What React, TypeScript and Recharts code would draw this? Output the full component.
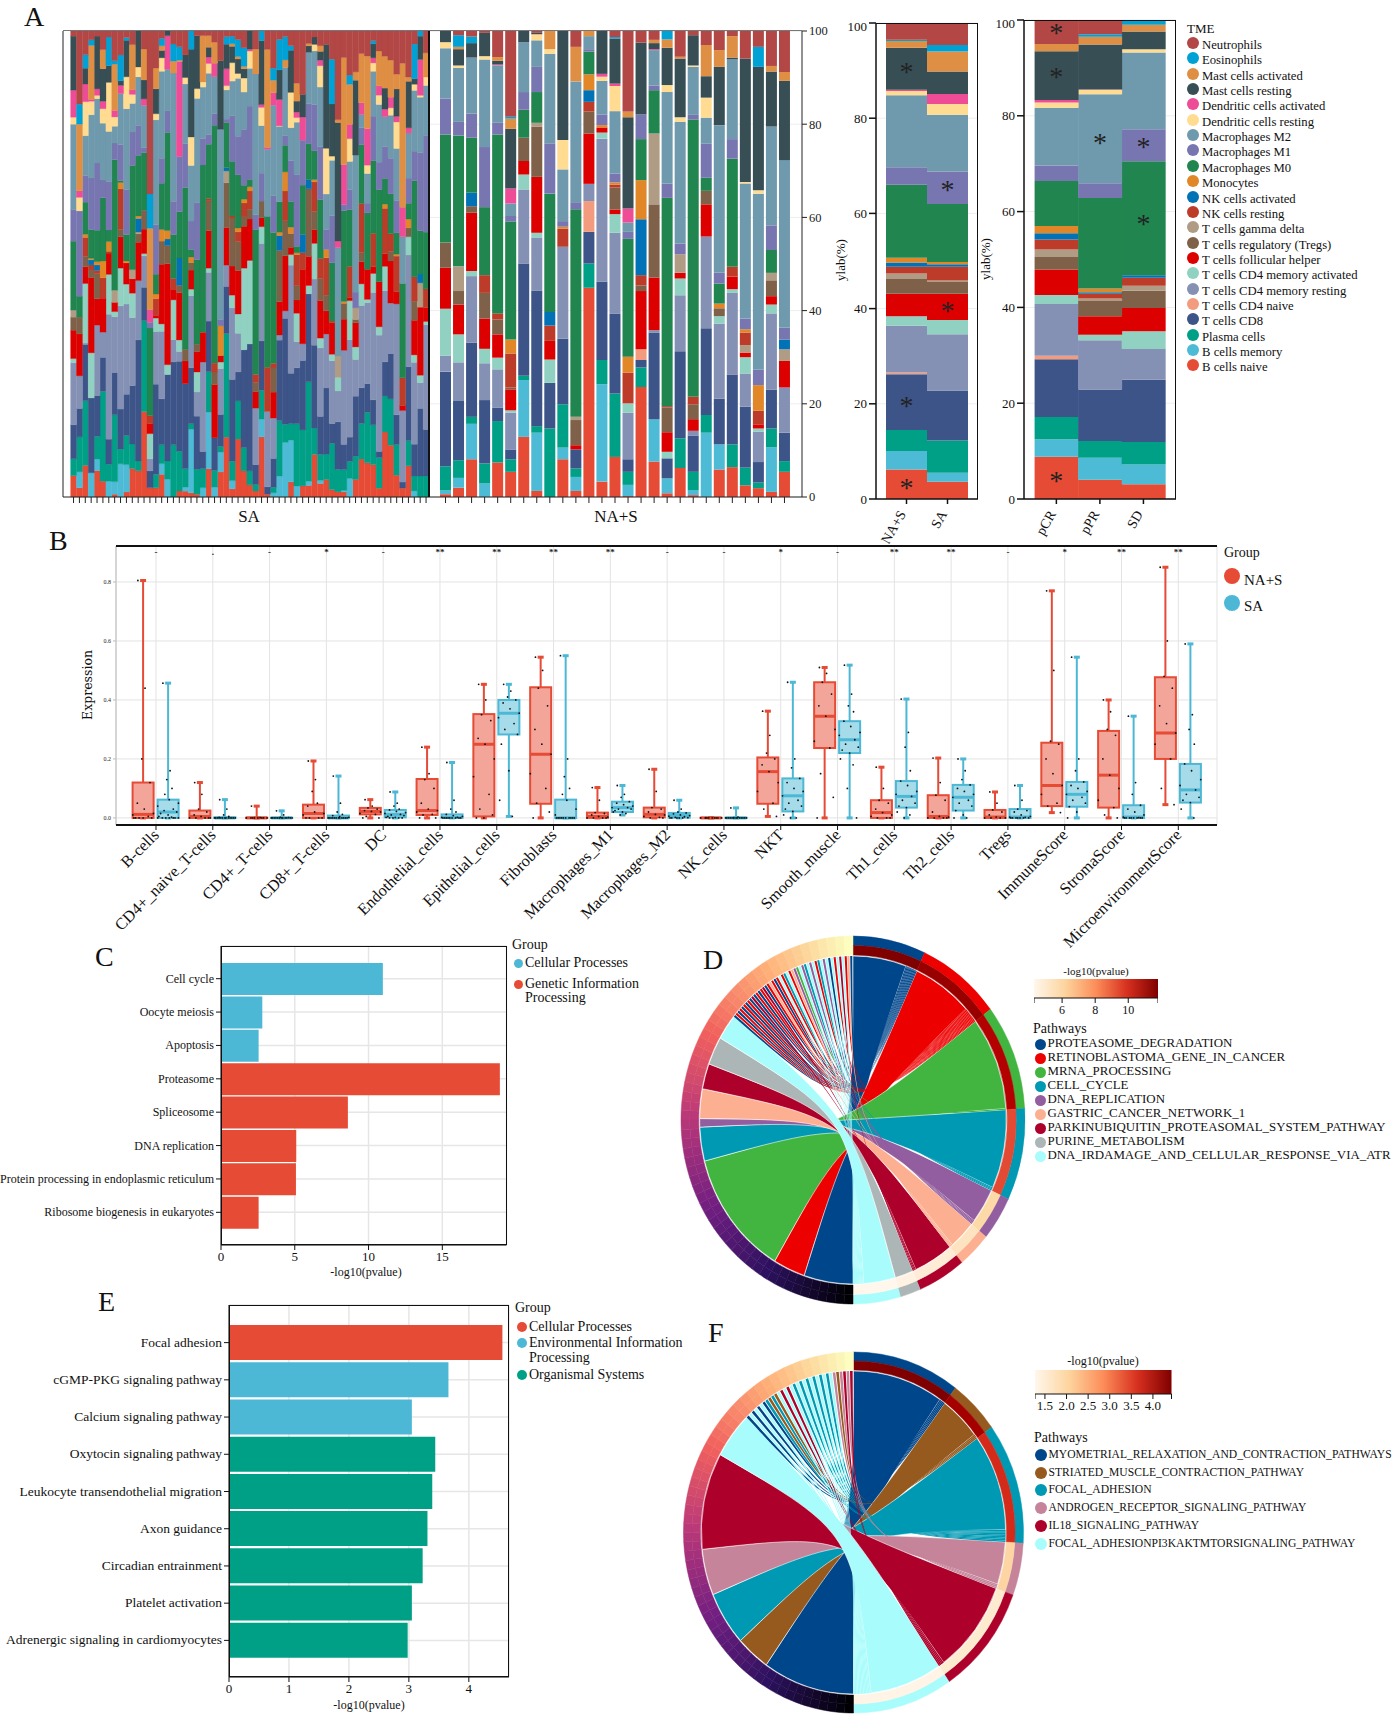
import React from 'react';
import {
  BarChart, Bar, ComposedChart, LineChart, PieChart, Pie, Cell, XAxis, YAxis, CartesianGrid,
  ReferenceDot, Customized
} from 'recharts';

const SERIF = '"Liberation Serif", serif';

// ---- panel A ----
const CELL_TYPES = ['B cells naive', 'B cells memory', 'Plasma cells', 'T cells CD8', 'T cells CD4 naive', 'T cells CD4 memory resting', 'T cells CD4 memory activated', 'T cells follicular helper', 'T cells regulatory (Tregs)', 'T cells gamma delta', 'NK cells resting', 'NK cells activated', 'Monocytes', 'Macrophages M0', 'Macrophages M1', 'Macrophages M2', 'Dendritic cells resting', 'Dendritic cells activated', 'Mast cells resting', 'Mast cells activated', 'Eosinophils', 'Neutrophils'];
const CELL_COLORS = ['#e64b35', '#4dbbd5', '#00a087', '#3c5488', '#f39b7f', '#8491b4', '#91d1c2', '#dc0000', '#7e6148', '#b09c85', '#bc3c29', '#0072b5', '#e18727', '#20854e', '#7876b1', '#6f99ad', '#ffdc91', '#ee4c97', '#374e55', '#df8f44', '#00a1d5', '#b24745'];

const saSamples = [
  [4.6,0,3.6,7.3,0,13.3,.9,6.1,2.8,1.5,0,0,0,14.8,6.8,18.3,1.5,5.8,11.6,0,0,1.1],
  [2,3.4,7.5,6.1,0,7,0,9,3.6,0,0,0,0,4.5,18.3,0,2.9,1.4,0,14.3,4.3,15.7],
  [6.8,0,13.9,12.1,0,.3,12.8,3.6,2.2,0,4.1,0,.7,6.9,5.7,8.6,7.3,3.8,3.4,0,2.9,5.1],
  [0,5.2,0,16.1,0,0,9.7,16.2,1.6,0,1.1,1.1,.3,6.2,11.1,13.6,2.9,.4,0,11.6,1.2,1.9],
  [5.7,2.5,4.9,8.8,0,15.2,0,5.7,5.4,0,.7,1.2,.7,6.8,14.5,13.9,.7,1.4,11.4,0,0,1.1],
  [3.4,0,19.3,7.3,0,5.4,0,7.3,0,0,4.4,0,3.6,13.6,3.8,12.2,3.1,1.6,7,4.1,0,4],
  [0,3.4,3.7,5.4,0,27,8.6,4.6,0,0,.4,0,2.1,2.5,10.4,10.9,10.6,0,3.6,0,6.2,1.3],
  [.6,2.7,14.4,9.1,0,12,1.1,2,0,2.6,0,0,0,28.1,3.6,3.6,2,1.4,0,10,.7,6.4],
  [0,7.2,3.2,8.7,0,22.4,8.2,6.8,1.6,0,8.8,0,1.4,.4,7.8,11.1,0,1.8,1,0,5.6,5.2],
  [1.1,5.9,6.3,8.9,0,19.5,4.3,4.6,0,0,0,0,.4,5.7,9.7,17.5,6.9,0,7.9,0,.6,1.4],
  [6.3,0,5.4,12.9,0,15,5.4,3.2,0,2,0,0,0,23,7.4,6.3,2,1,0,10,0,3],
  [5.6,0,2.1,25.9,0,12.7,0,8.2,1.8,.4,0,2.9,.5,13,6.4,10.4,2.1,0,7.7,0,0,0],
  [18.5,0,19.7,7.2,0,6.8,.5,5.3,4.1,0,0,0,0,12.5,1,9.2,0,1.4,4.1,6.7,0,3.9],
  [2,0,0,3.6,0,2.6,5.4,2.2,0,0,1.7,0,0,18.8,1.2,0,0,2.7,0,17.5,7.4,35],
  [2,0,2.9,19.5,0,11.4,2.9,.6,0,0,3.6,0,1,4.3,10.7,22.7,1.3,0,5.4,4.5,0,8],
  [4.9,2.3,4.1,9.9,0,14.6,1.6,12.9,5,0,0,0,2.5,10,5.4,18.8,2.9,0,1.6,1,1.6,1.6],
  [0,3.8,3.9,18.5,0,0,2.1,21.6,3.9,0,0,1.4,1.8,21,4.6,8.9,0,7.2,1,0,0,0],
  [0,0,11.3,17.9,0,4.8,8.6,2.3,0,0,2.3,0,0,9.5,7.2,27.7,0,0,0,2.6,3.7,2.8],
  [1.3,0,8.6,19.4,0,2.1,2.5,10.2,1.6,0,0,5.9,0,10,11.9,0,0,20.5,0,.3,2.9,3.4],
  [1.3,.9,4.1,18.8,0,0,0,5,2.6,0,0,0,0,35.8,9.7,13.2,1.4,0,5,0,0,5.3],
  [.9,13.6,1.2,12,0,15.4,1.4,4.1,1.6,0,0,0,1.2,1.6,6.1,11.9,6.1,0,18.8,0,3.9,0],
  [.6,0,5.4,11.4,0,5.2,4.3,4.4,1.6,0,0,0,0,18.2,12.2,22.5,2.1,0,11.4,0,0,1],
  [0,2,4.1,3.7,0,19.3,0,6.3,0,0,.2,0,0,36,5.7,11.1,1.1,0,0,10,0,1],
  [6.1,12.2,8.7,10.9,0,10.5,.9,8.1,6.4,0,.5,0,0,11.7,2.1,13.2,2.1,1.4,2.1,2.5,0,1],
  [0,2.1,3.6,7,0,0,0,11.4,2.7,0,1.9,0,0,51,2.5,7.9,0,2.9,0,4.5,0,2.4],
  [5.4,4.3,1.2,6.9,0,9.9,1.4,1.4,0,0,0,0,6.4,0,1.4,41,0,0,14.8,0,0,6.4],
  [12.7,0,22,10,0,4.5,0,8,9.5,2.5,0,.7,0,9.6,.7,6.2,.9,3.6,5.2,0,1.6,1.2],
  [1.6,1.6,3.8,16,0,14,2.5,5.7,9.4,0,.4,0,0,10.7,8.9,6.8,3.6,0,3.2,.5,1.5,1],
  [12,0,7.9,6,0,8,4,9,6,0,2,0,.8,11,8,12,1,0,3,.5,3.5,1.8],
  [5.6,0,5,21,0,0,17.5,9,2,0,3,0,.8,3,12,8,3,0,2,.5,4,3.6],
  [2.6,0,3,27.2,0,0,17.9,8.9,2.1,0,3.9,0,.9,1.6,15.7,8.1,3.7,.4,3.9,0,0,0],
  [1.3,0,1.4,4.3,0,12.2,0,3.6,2,0,1.7,0,0,31.3,3.2,30.4,0,0,0,5.4,0,3.9],
  [12.9,3.8,6.2,10.6,0,20.9,3.6,1.9,3.6,0,0,0,0,0,6,10.2,3.9,.6,13.7,0,2.1,0],
  [.6,0,0,1.6,0,16.3,0,0,0,0,9.6,0,0,32.7,0,14.5,0,.4,0,21.2,0,4],
  [0,.9,1.2,6.2,0,8.7,0,5.6,5.2,0,1,0,0,28.2,7.9,19.5,0,2.7,0,2.7,2.6,8],
  [0,4.5,12,17.4,0,1.1,0,7.2,11.1,0,0,3.2,.7,6.6,0,16.3,.1,5.7,6.4,0,6.6,1.8],
  [0,11.7,3.9,22.7,0,1.6,0,11.8,7.5,0,6.4,0,4.1,5.7,2.1,14.6,0,0,0,1.6,5,1.2],
  [3.3,9.1,3.6,11,0,23.6,2.3,1.6,3,0,0,0,1.4,5.6,8.9,7.2,7.7,0,9.2,0,1,3.2],
  [0,2.4,13.6,12.2,0,5.7,6.2,2.9,3.1,0,6.8,0,.4,1.4,15.7,11.4,1,1.2,2.4,3.9,0,11.4],
  [2.4,0,12.1,15,0,3.6,0,16.1,0,0,3.6,3.9,0,10.7,9.7,0,0,5,4.9,0,0,13.7],
  [2.5,.9,21.5,19,0,0,1.8,6.3,14.6,0,0,2,0,7.7,8.7,11.1,0,0,1.4,.5,0,2.7],
  [9.2,0,5.7,17.9,0,14.3,7.7,3,3.9,0,6.4,0,.5,6.2,10,11.6,1.4,0,1.6,0,0,1.3],
  [2.9,.7,5.6,8.2,0,14.8,2.1,8.1,4.8,0,4.3,0,0,12.7,11.4,12.9,4.6,1.2,1.9,1.2,0,3.2],
  [3.8,0,5.5,14.3,0,11.7,0,5,3.4,0,8.1,0,1.8,0,4.3,7.7,9.9,0,22.5,0,0,2.9],
  [1.6,0,10,4.3,0,13.6,1.4,6.8,0,0,.4,0,0,12.6,10.2,12,.9,0,11.3,0,9.7,6.1],
  [1.1,0,4.8,10.2,0,6.6,2.9,0,0,4.6,0,0,0,0,0,23.2,0,1.4,25.4,.6,0,19],
  [1.1,.3,4.5,5.4,0,20.2,0,6.7,3.4,0,0,0,.4,19.5,1.3,0,0,8.6,0,23,0,5.7],
  [0,4,3.7,5.2,0,21,8.4,.7,0,0,6.7,0,0,12.2,4.3,6.1,4.9,3.1,0,8.6,2,9.5],
  [3.8,0,5,12.9,0,7.9,2.7,5.2,.7,2.5,0,0,0,0,3.4,29.5,0,0,16.1,1.8,0,8.8],
  [8.4,0,7.9,7.9,0,18.2,4.8,4.9,2,0,10.9,0,0,13,3.8,2.9,0,2.6,0,10.9,0,5],
  [7.4,0,10.9,6.2,0,17.5,.7,6.5,0,0,0,0,0,12.2,2.1,6.4,1.8,7.9,0,15.7,0,5.4],
  [7,0,8.6,5.4,0,23.2,4.1,1.5,0,0,7.2,0,0,15.7,9.6,9.7,1.8,1.1,3,0,.7,2.1],
  [1.9,0,6.6,1.3,0,25,1.8,9.7,0,0,0,0,0,19.8,5.9,12.4,2,2,0,7.5,0,4.3],
  [13.9,0,7.7,7.3,0,15.2,5.2,2.7,0,0,9.7,0,.9,5.5,6.8,6.4,0,1.6,4.5,6.8,0,5.4],
  [11.2,0,10,9.8,0,10.9,0,9.1,2.1,0,3.8,0,0,8.6,7.7,9.3,1.6,2.3,0,8,0,6.3],
  [4.7,0,6.6,6.4,0,23.9,0,2.6,0,0,7.7,0,.4,4.6,7,11.2,5.7,1.2,5.9,3.2,0,9.3],
  [1.9,0,0,1.3,0,15.3,0,1.1,0,0,5.9,0,0,20.2,0,10,0,6.3,0,30.8,0,6.9],
  [6.7,0,5.4,15.9,0,24,3.9,0,1.9,0,0,0,1.9,3.4,5.4,9.7,0,1.1,10,.9,0,9.9],
  [0,1.3,3.2,6.8,0,17.5,1.6,7.4,4.1,0,5.2,0,0,20.6,6.3,13,1.3,0,1.2,0,7.4,2.8],
  [0,0,4.5,14.5,0,5.5,1.6,14.6,0,5.2,0,1.9,0,9.3,16.7,11.9,.4,7.7,5,0,1.1,0],
  [0,0,4.5,10,0,22.5,.7,3,0,0,4,0,0,12.2,20.8,10.7,1.8,0,0,5.2,0,4.7],
];

const naSamples = [
  [.6,.8,5.2,20.3,0,3.4,10.1,8.8,5.4,0,0,0,0,23.2,7.7,10.8,1.3,0,2.4,0,0,0],
  [2,2.1,3.8,12.7,0,8.3,6,6.4,2.9,5.3,0,0,0,28.1,2.9,11.6,.5,0,3.5,.5,2.5,.9],
  [8.1,7.6,1.5,15.9,0,14.3,1.1,12.5,1.4,0,0,2.9,0,11.8,5.2,12,0,0,3.1,0,1.4,1.2],
  [0,2.9,4.3,13.6,0,7.9,3.1,6.5,5.5,0,3.8,0,0,14.6,12.9,18.8,.7,0,5,0,0,.4],
  [7.4,0,8.9,2.9,0,8.2,2.5,5,3.2,0,1.3,0,0,38.4,2.5,12.3,0,.2,.8,.8,0,5.6],
  [5.4,0,2.7,2.1,0,7.9,.5,4.5,.4,0,7.3,0,3,25.3,1.2,2.7,0,3.2,12.8,2.2,.4,18.4],
  [12.9,12.2,.9,24.1,0,15.9,3.2,2.9,5,0,0,0,0,6,3.8,10.7,0,0,2.4,0,0,0],
  [1.3,12.5,1.4,29.1,0,11.4,1,12,10.8,.8,0,0,0,6.6,5.4,5.7,1.3,0,.3,0,0,.4],
  [0,0,14.7,9.8,0,0,5,4,0,0,3.3,2.9,0,25.4,10.8,19.2,1,0,0,3.9,0,0],
  [8.1,2.5,9.3,14.1,0,19.7,0,0,0,0,3.9,0,.4,0,1.2,11.1,6.3,0,23.4,0,0,0],
  [1.3,3,1.8,4.1,0,0,0,.9,5.4,.7,0,0,0,44.5,1.5,25.9,0,0,0,7.4,0,3.4],
  [44.9,0,5.2,6.8,6.6,3.7,0,10.8,4.7,0,2.1,2.5,3.4,4.9,.5,2.8,0,0,0,1.1,0,0],
  [3.3,20.9,5.2,16.8,0,30.7,1.3,1.1,0,0,0,0,.5,0,2.3,7.2,.9,.6,9.2,0,0,0],
  [8.6,0,13.6,17.1,0,17.4,4,1,4.7,0,.6,0,.5,0,1.9,13.4,5.4,.5,9.7,0,.3,1.3],
  [.2,2.4,2.8,2.7,0,10,2,0,0,0,6.6,0,3.4,25.3,1.5,2,0,3,19.6,1.2,0,17.3],
  [23.6,0,4.2,1.6,2.3,0,0,12.5,1.2,0,2.2,12,8.4,8.8,5.3,0,0,0,15.4,0,0,2.5],
  [7.6,9.1,0,18.6,0,.5,0,11.3,15.7,15.2,0,0,0,9.3,1,7.6,0,.2,1.3,.7,0,1.9],
  [.8,3.2,0,4.3,0,0,1.4,4.2,5.3,0,.3,0,0,44.7,3,19.7,1.5,0,8,1.8,1.8,0],
  [6.2,0,6.4,18.7,0,12,3.6,1.2,0,4,0,0,0,0,2.3,26.1,1,0,12.6,.4,0,5.5],
  [.4,1.1,3.9,7.8,0,1,0,2.5,3.2,0,1.6,0,0,59.5,1,10.3,.3,0,6.5,0,0,.9],
  [0,13.8,3.8,18.6,0,19.7,0,6.9,2.9,0,0,0,0,2.8,7.3,5.6,4.3,0,4.6,6.7,0,3],
  [5.9,5.4,0,9.8,0,16.1,1.6,0,1.7,0,0,0,1,4.3,2.3,31.7,0,0,12.5,3.6,0,4.1],
  [6.4,0,4.9,15,0,17.5,.8,2.7,0,0,2.1,0,0,23.2,4.2,17.1,0,0,.4,4.6,0,1.1],
  [2.5,0,3.8,13.1,0,7.1,3.5,1,0,1.6,2.7,0,.7,0,2.3,29,.3,0,26.5,0,0,5.9],
  [1.9,0,1.2,4.4,0,6.5,.7,.9,0,0,2.9,0,5.5,0,3.3,37.8,.7,0,26.5,0,4.3,3.4],
  [1.1,9.6,4,8.3,0,16.4,1.9,1.8,3.4,1.6,0,0,0,4.9,5.3,21.2,0,0,11.8,1.2,0,7.5],
  [5.4,0,2.3,6.1,0,9.7,0,5.7,0,2.5,0,2.1,0,0,2.5,36,0,0,17,1.9,0,8.8],
];

const groupMeanNA = [6.2,3.9,4.4,11.7,.4,9.8,2,4.7,3.1,1.2,1.4,.9,1,15.3,3.7,15.1,.9,.3,8.8,1.4,.3,3.5];
const groupMeanSA = [3.6,1.9,6.8,10.5,0,11.8,3,5.5,2.5,.3,2.9,.5,.5,12.2,6.8,11.9,2.3,2.1,4.7,4.2,1.4,4.6];
const respPCR = [8.8,3.7,4.6,12.1,.7,10.8,1.9,5.3,2.6,1.6,2.1,1.3,1.5,9.4,3.2,12.1,1.1,.5,10.2,1.5,0,5];
const respPPR = [4,4.6,3.5,10.8,0,10.3,1.1,3.9,3.2,.5,1,.3,.8,18.9,3.1,18.6,.9,.1,9.4,1.6,.5,3];
const respSD = [3.1,4.1,4.7,13,0,6.4,3.7,4.9,3.6,1,1.7,.5,0,23.8,6.7,16,.7,0,3.7,1.4,.9,.1];

const PCT_TICKS = [0, 20, 40, 60, 80, 100];
const marksGroup = [['NA+S', 2.7], ['NA+S', 19.9], ['NA+S', 90.1], ['SA', 65.4], ['SA', 39.9]];
const marksResp = [['pCR', 97.6], ['pCR', 88.6], ['pCR', 4.2], ['pPR', 74.8], ['SD', 73.9], ['SD', 57.9]];

const toTable = (labels: string[], rows: number[][]) => rows.map((row, i) => {
  const sum = row.reduce((a, b) => a + b, 0);
  const out: any = { name: labels[i] };
  CELL_TYPES.forEach((c, k) => { out[c] = row[k] / sum * 100; });
  return out;
});

const saTable = toTable(saSamples.map((_, i) => `SA${i + 1}`), saSamples);
const naTable = toTable(naSamples.map((_, i) => `NA${i + 1}`), naSamples);
const groupTable = toTable(['NA+S', 'SA'], [groupMeanNA, groupMeanSA]);
const respTable = toTable(['pCR', 'pPR', 'SD'], [respPCR, respPPR, respSD]);

// ---- panel B ----
const immuneCats = ['B-cells', 'CD4+_naive_T-cells', 'CD4+_T-cells', 'CD8+_T-cells', 'DC', 'Endothelial_cells', 'Epithelial_cells', 'Fibroblasts', 'Macrophages_M1', 'Macrophages_M2', 'NK_cells', 'NKT', 'Smooth_muscle', 'Th1_cells', 'Th2_cells', 'Tregs', 'ImmuneScore', 'StromaScore', 'MicroenvironmentScore'];
const immuneSig = ['-', '.', '-', '*', '-', '**', '**', '**', '**', '-', '-', '*', '-', '**', '**', '-', '*', '**', '**'];
// min, q1, median, q3, max
const naBoxes = [[0,0,.012,.12,.805],[0,0,.005,.025,.12],[0,0,0,.001,.04],[0,0,.015,.045,.193],[0,.012,.022,.034,.062],[0,.01,.025,.132,.24],[0,.005,.25,.352,.453],[0,.048,.216,.443,.545],[0,0,.005,.018,.103],[0,.002,.012,.035,.165],[0,0,0,.0005,.001],[.005,.048,.157,.205,.362],[0,.237,.345,.46,.51],[0,0,.018,.06,.172],[0,0,.005,.077,.203],[0,0,.003,.027,.088],[.018,.04,.11,.255,.77],[0,.035,.145,.295,.4],[.045,.2,.288,.477,.85]];
const saBoxes = [[0,0,.02,.062,.457],[0,0,0,.002,.062],[0,0,0,.001,.024],[0,0,0,.008,.142],[0,.002,.012,.027,.088],[0,0,.002,.012,.188],[.005,.283,.355,.4,.453],[0,0,0,.062,.55],[.01,.02,.035,.055,.11],[0,.001,.008,.017,.06],[0,0,0,.001,.034],[0,.022,.075,.134,.46],[0,.22,.265,.328,.518],[0,.035,.073,.125,.403],[0,.025,.07,.112,.2],[0,0,.003,.03,.11],[0,.038,.08,.122,.545],[0,0,.003,.043,.345],[0,.052,.095,.183,.59]];
const naPts = [
  [.805,.44,.2,.12,.05,.03,.015,.01,.005,0,0,0,0,0],[.12,.08,.03,.02,.01,.005,0,0,0,0,0],[.04,.001,0,0,0,0,0,0,0,0],[.193,.13,.09,.05,.04,.02,.015,.01,0,0,0,0],
  [.062,.04,.034,.03,.025,.022,.02,.015,.012,.005,0,0],[.24,.15,.13,.1,.05,.03,.025,.02,.012,.01,0,0],[.453,.4,.35,.33,.27,.25,.2,.14,.08,.03,.01,0,0],[.545,.5,.44,.38,.3,.25,.216,.15,.1,.05,.02,0],
  [.103,.06,.018,.015,.01,.005,.003,0,0,0,0],[.165,.09,.035,.03,.02,.012,.01,.005,.002,0,0],[.001,0,0,0,0,0,0,0,0,0],[.362,.28,.22,.2,.18,.157,.12,.09,.05,.03,.005],
  [.51,.49,.46,.42,.38,.345,.3,.26,.237,.15,.07,0],[.172,.1,.06,.05,.03,.018,.01,.005,0,0,0],[.203,.12,.077,.06,.02,.005,.003,0,0,0,0],[.088,.05,.027,.02,.01,.003,0,0,0,0],
  [.77,.5,.26,.25,.2,.15,.11,.08,.05,.04,.018],[.4,.36,.3,.28,.2,.145,.1,.06,.035,.01,0],[.85,.6,.48,.44,.38,.32,.288,.25,.2,.1,.045],
];
const saPts = [
  [.457,.16,.13,.1,.08,.062,.05,.04,.03,.025,.02,.015,.01,.005,.003,0,0,0,0,0,0,0],[.062,.03,.01,.005,.002,0,0,0,0,0,0,0,0,0,0,0,0,0],[.024,.01,.002,.001,0,0,0,0,0,0,0,0,0,0,0,0],[.142,.05,.02,.012,.008,.004,.002,0,0,0,0,0,0,0,0,0,0,0,0],
  [.088,.05,.04,.03,.027,.022,.018,.015,.012,.01,.008,.005,.002,.002,0,0,0,0],[.188,.06,.03,.02,.012,.008,.005,.002,.002,0,0,0,0,0,0,0,0,0],[.453,.43,.41,.4,.39,.37,.355,.34,.32,.3,.283,.25,.16,.06,.005],[.55,.2,.14,.1,.08,.06,.03,.01,0,0,0,0,0,0,0,0,0,0],
  [.11,.08,.07,.055,.05,.045,.04,.035,.035,.03,.03,.025,.02,.02,.015,.01],[.06,.03,.02,.017,.014,.01,.008,.006,.004,.002,.001,0,0,0,0,0],[.034,.003,.001,0,0,0,0,0,0,0,0,0,0,0,0,0],[.46,.2,.17,.134,.12,.1,.09,.075,.06,.05,.04,.03,.022,.01,0,0],
  [.518,.42,.38,.36,.328,.31,.29,.28,.265,.25,.24,.23,.22,.2,.18,.1,0],[.403,.29,.24,.16,.125,.11,.09,.08,.073,.06,.05,.04,.035,.02,.01,0],[.2,.16,.13,.112,.1,.09,.08,.07,.06,.05,.04,.025,.01,0,0],[.11,.06,.03,.025,.02,.01,.005,.003,.002,0,0,0,0,0,0,0],
  [.545,.2,.16,.122,.11,.1,.09,.08,.07,.06,.05,.038,.02,0],[.345,.12,.08,.043,.03,.02,.01,.003,.001,0,0,0,0,0,0,0,0],[.59,.35,.3,.25,.183,.16,.13,.11,.095,.08,.07,.06,.052,.03,0],
];
const immuneTable = immuneCats.map((c, i) => ({ cat: c, sig: immuneSig[i], na: naBoxes[i], sa: saBoxes[i], naPts: naPts[i], saPts: saPts[i] }));
const JITTER = [-.8, .3, -.2, .6, -.5, .1, .9, -.9, .45, -.35, .75, -.65, 0];

// ---- panels C and E ----
const keggC = ['Cell cycle', 'Oocyte meiosis', 'Apoptosis', 'Proteasome', 'Spliceosome', 'DNA replication', 'Protein processing in endoplasmic reticulum', 'Ribosome biogenesis in eukaryotes'];
const keggCValues = [10.97, 2.8, 2.55, 18.9, 8.6, 5.1, 5.08, 2.55];
const keggCColors = ['#4db8d5', '#4db8d5', '#4db8d5', '#e64b35', '#e64b35', '#e64b35', '#e64b35', '#e64b35'];
const keggE = ['Focal adhesion', 'cGMP-PKG signaling pathway', 'Calcium signaling pathway', 'Oxytocin signaling pathway', 'Leukocyte transendothelial migration', 'Axon guidance', 'Circadian entrainment', 'Platelet activation', 'Adrenergic signaling in cardiomyocytes'];
const keggEValues = [4.56, 3.66, 3.05, 3.44, 3.39, 3.31, 3.23, 3.05, 2.98];
const keggEColors = ['#e64b35', '#4db8d5', '#4db8d5', '#00a087', '#00a087', '#00a087', '#00a087', '#00a087', '#00a087'];

// ---- panels D and F ----
const pathwaysD = ['PROTEASOME_DEGRADATION', 'RETINOBLASTOMA_GENE_IN_CANCER', 'MRNA_PROCESSING', 'CELL_CYCLE', 'DNA_REPLICATION', 'GASTRIC_CANCER_NETWORK_1', 'PARKINUBIQUITIN_PROTEASOMAL_SYSTEM_PATHWAY', 'PURINE_METABOLISM', 'DNA_IRDAMAGE_AND_CELLULAR_RESPONSE_VIA_ATR'];
const colorsD = ['#00468b', '#ed0000', '#42b540', '#0099b4', '#925e9f', '#fdaf91', '#ad002a', '#adb6b6', '#a8fcfc'];
const termSpanD = [24.6, 28.4, 33.4, 29.1, 13.9, 11.4, 16.2, 7, 16];
const pvalColorD = ['#7f0000', '#980000', '#b30000', '#e34a33', '#fdd9a8', '#fee3c0', '#feecd6', '#fff2e2', '#fff7ec'];
const geneSpanD = [18.6, 12.1, 44.8, 12, 3, 10.5, 9, 10, 9];
const strandsD = [0,1,0,1,0,1,0,1,0,6,0,1,0,1,6,0,1,5,1,0,1,8,1,3,8,1,5,4,2,8,4,3,8,4,8,1,3,8,4,8,0,8,1,8,6,8,1,5,0];

const pathwaysF = ['MYOMETRIAL_RELAXATION_AND_CONTRACTION_PATHWAYS', 'STRIATED_MUSCLE_CONTRACTION_PATHWAY', 'FOCAL_ADHESION', 'ANDROGEN_RECEPTOR_SIGNALING_PATHWAY', 'IL18_SIGNALING_PATHWAY', 'FOCAL_ADHESIONPI3KAKTMTORSIGNALING_PATHWAY'];
const colorsF = ['#00468b', '#965a1f', '#0099b4', '#c5849a', '#ad002a', '#a8fcfc'];
const termSpanF = [36.8, 17.5, 39.1, 16.9, 35.5, 34.2];
const pvalColorF = ['#7f0000', '#a50000', '#d32a1a', '#fdd5a5', '#fdebd0', '#fff4e6'];
const geneSpanF = [35, 13, 19.4, 16.6, 34.8, 16.6];
const strandsF = [0,5,0,5,0,5,0,2,1,2,1,5,4,5,4,5,2,5,2,5,2,5,2,5,2,5,2,5,3,1,3,4,3,4];

const MAGMA = ['#000004', '#2c115f', '#721f81', '#b73779', '#f1605d', '#feb078', '#fcfdbf'];
const ORRD = ['#fff7ec', '#fdd49e', '#fc8d59', '#d7301f', '#7f0000'];

const hex = (s: string) => [1, 3, 5].map(i => parseInt(s.slice(i, i + 2), 16));
const ramp = (stops: string[], n: number) => Array.from({ length: n }, (_, i) => {
  const t = i / (n - 1) * (stops.length - 1);
  const k = Math.min(Math.floor(t), stops.length - 2);
  const a = hex(stops[k]), b = hex(stops[k + 1]);
  return `rgb(${a.map((v, j) => Math.round(v + (b[j] - v) * (t - k))).join(',')})`;
});

// ---- small layout helpers ----
const Txt = ({ x, y, size = 12, center, rotate, family, children }: any) => (
  <div style={{
    position: 'absolute', left: x, top: y, fontSize: size, whiteSpace: 'nowrap', lineHeight: 1.2, color: '#111',
    fontFamily: family || SERIF,
    transform: `translate(${center ? '-50%' : '0'},-50%)${rotate ? ` rotate(${rotate}deg)` : ''}`,
  }}>{children}</div>
);

const Dot = ({ x, y, r, color }: any) => (
  <div style={{ position: 'absolute', left: x - r, top: y - r, width: 2 * r, height: 2 * r, borderRadius: '50%', background: color }} />
);

const Frame = ({ l, t, r, b, color = '#111', w = 1.5, sides = 'trbl' }: any) => (
  <div style={{
    position: 'absolute', left: l, top: t, width: r - l, height: b - t, boxSizing: 'border-box',
    borderTop: sides.includes('t') ? `${w}px solid ${color}` : 'none',
    borderRight: sides.includes('r') ? `${w}px solid ${color}` : 'none',
    borderBottom: sides.includes('b') ? `${w}px solid ${color}` : 'none',
    borderLeft: sides.includes('l') ? `${w}px solid ${color}` : 'none',
  }} />
);

const Place = ({ x, y, children, style }: any) => <div style={{ position: 'absolute', left: x, top: y, ...style }}>{children}</div>;

const stackBars = (size?: number) => CELL_TYPES.map((c, i) => (
  <Bar key={c} dataKey={c} stackId="a" fill={CELL_COLORS[i]} barSize={size} isAnimationActive={false} />
));

const Star = ({ cx, cy }: any) => (
  <text x={cx} y={cy + 11} textAnchor="middle" fontSize={28} fill="#222">*</text>
);

const RotTick = ({ x, y, payload }: any) => (
  <text x={x} y={y} dy={8} textAnchor="end" fontSize={14} fill="#111" transform={`rotate(-60 ${x} ${y + 8})`}>{payload.value}</text>
);

const StackPanel = ({ data, marks, x, y, w, h, left, pad }: any) => (
  <Place x={x} y={y}>
    <BarChart width={w} height={h} data={data} barCategoryGap={0} margin={{ top: 5, right: 2, bottom: 0, left: 0 }}>
      <CartesianGrid vertical={false} stroke="#eeeeee" />
      <XAxis dataKey="name" interval={0} tick={<RotTick />} tickSize={5} height={45} padding={pad} stroke="#111" strokeWidth={1.5} />
      <YAxis domain={[0, 100]} ticks={PCT_TICKS} tickSize={7} width={left} stroke="#111" strokeWidth={1.5} tick={{ fontSize: 13, fill: '#111' }} />
      {stackBars()}
      {marks.map((m: any, i: number) => <ReferenceDot key={i} x={m[0]} y={m[1]} r={0} shape={<Star />} />)}
    </BarChart>
  </Place>
);

const BoxMark = (p: any) => {
  const { x, y, width, height, payload, which, color, fill } = p;
  const b = payload[which];
  const pts = payload[which + 'Pts'];
  const span = b[4] - b[0];
  const py = (v: number) => y + (b[4] - v) / span * height;
  const mid = x + width / 2;
  return (
    <g>
      <line x1={mid} x2={mid} y1={py(b[4])} y2={py(b[0])} stroke={color} strokeWidth={2} />
      <rect x={mid - 3} y={py(b[4]) - 1.5} width={6} height={3} fill={color} />
      <rect x={mid - 3} y={py(b[0]) - 1.5} width={6} height={3} fill={color} />
      <rect x={x} y={py(b[3])} width={width} height={py(b[1]) - py(b[3])} fill={fill} stroke={color} strokeWidth={2} />
      <line x1={x} x2={x + width} y1={py(b[2])} y2={py(b[2])} stroke={color} strokeWidth={3} />
      {pts.map((v: number, i: number) => (
        <circle key={i} cx={mid + JITTER[i % JITTER.length] * (width / 2 + (v > b[3] ? -4 : 1))} cy={py(v)} r={0.9} fill="#111" />
      ))}
    </g>
  );
};

const SigMark = ({ cx, cy, label }: any) => (
  <text x={cx} y={cy + 3} textAnchor="middle" fontSize={9} fontWeight={700} fill="#222">{label}</text>
);

const AngledTick = ({ x, y, payload }: any) => (
  <text x={x + 4} y={y} dy={4} textAnchor="end" fontSize={16.3} fill="#111" transform={`rotate(-45 ${x + 4} ${y + 4})`}>{payload.value}</text>
);

const CatTick = ({ x, y, payload, font }: any) => (
  <text x={x} y={y} dy={4} textAnchor="end" fontSize={font} fill="#111">{payload.value}</text>
);

const HBars = ({ names, values, colors, x, y, w, h, left, domain, ticks, size, pad, font }: any) => (
  <Place x={x} y={y}>
    <BarChart layout="vertical" width={w} height={h} data={names.map((n: string, i: number) => ({ name: n, v: values[i] }))} margin={{ top: 2, right: 10, bottom: 0, left: 0 }}>
      <CartesianGrid stroke="#e6e6e6" strokeWidth={1.5} />
      <XAxis type="number" domain={domain} ticks={ticks} allowDataOverflow height={26} tickSize={5} stroke="#111" tick={{ fontSize: 13, fill: '#111' }} />
      <YAxis type="category" dataKey="name" width={left} interval={0} tickSize={5} padding={pad} stroke="#111" tick={<CatTick font={font} />} />
      <Bar dataKey="v" barSize={size} isAnimationActive={false}>
        {names.map((n: string, i: number) => <Cell key={n} fill={colors[i]} />)}
      </Bar>
    </BarChart>
  </Place>
);

// gene ring on the left half, pathway ring plus p-value ring on the right
const Chord = ({ cx, cy, rx, ry, terms, colors, pvals, genes, strands, strandTerm, inner }: any) => {
  const size = 2 * ry + 4;
  const c = size / 2;
  const bands = ramp(MAGMA, 60);
  const outer = [...terms.map((v: number, i: number) => ({ v, fill: colors[i] })), ...bands.map(b => ({ v: 3, fill: b }))];
  const mid = [...terms.map((v: number, i: number) => ({ v, fill: pvals[i] })), ...bands.map(b => ({ v: 3, fill: b }))];
  const r = ry - inner - 1;
  const pt = (deg: number) => {
    const a = deg * Math.PI / 180;
    return `${(c + r * Math.sin(a)).toFixed(2)} ${(c - r * Math.cos(a)).toFixed(2)}`;
  };
  const ribbon = (a1: number, a2: number, b1: number, b2: number) =>
    `M${pt(a1)}A${r} ${r} 0 0 1 ${pt(a2)}C${c} ${c} ${c} ${c} ${pt(b1)}A${r} ${r} 0 0 1 ${pt(b2)}C${c} ${c} ${c} ${c} ${pt(a1)}Z`;

  const counts = terms.map((_: number, i: number) => strands.filter((s: number) => s === i).length);
  const geneTotal = genes.reduce((a: number, b: number) => a + b, 0);
  const strandGene = (180 - geneTotal) / strands.length;
  const mains: any[] = [];
  const thin: any[] = [];
  const termStart: number[] = [];
  let ta = 0, ga = 180;
  terms.forEach((span: number, i: number) => {
    const mainSpan = span - counts[i] * strandTerm;
    termStart.push(ta + mainSpan);
    mains.push({ d: ribbon(ta, ta + mainSpan, ga, ga + genes[i]), fill: colors[i] });
    ta += span;
    ga += genes[i];
  });
  strands.forEach((s: number) => {
    const a = termStart[s];
    termStart[s] += strandTerm;
    thin.push({ d: ribbon(a, a + strandTerm, ga, ga + strandGene * 0.75), fill: colors[s] });
    ga += strandGene;
  });

  return (
    <Place x={cx - c} y={cy - c} style={{ transform: `scaleX(${rx / ry})`, transformOrigin: 'center' }}>
      <PieChart width={size} height={size} margin={{ top: 0, right: 0, bottom: 0, left: 0 }}>
        <Pie data={outer} dataKey="v" cx={c} cy={c} startAngle={90} endAngle={-270} innerRadius={ry - inner / 2} outerRadius={ry} isAnimationActive={false}>
          {outer.map((d, i) => <Cell key={i} fill={d.fill} stroke={d.fill} strokeWidth={0.5} />)}
        </Pie>
        <Pie data={mid} dataKey="v" cx={c} cy={c} startAngle={90} endAngle={-270} innerRadius={ry - inner} outerRadius={ry - inner / 2} isAnimationActive={false}>
          {mid.map((d, i) => <Cell key={i} fill={d.fill} stroke={d.fill} strokeWidth={0.5} />)}
        </Pie>
        <Customized component={() => (
          <g>
            {mains.map((m, i) => <path key={i} d={m.d} fill={m.fill} stroke="#fff" strokeWidth={0.6} />)}
            {thin.map((m, i) => <path key={i} d={m.d} fill={m.fill} />)}
          </g>
        )} />
      </PieChart>
    </Place>
  );
};

const ColorBar = ({ id, x, y, w, h, lo, hi, ticks, font }: any) => (
  <Place x={x} y={y}>
    <LineChart width={w} height={h + 28} data={[{ v: lo }, { v: hi }]} margin={{ top: 0, right: 0, bottom: 0, left: 0 }}>
      <Customized component={() => (
        <g>
          <defs>
            <linearGradient id={id} x1="0" y1="0" x2="1" y2="0">
              {ORRD.map((s, i) => <stop key={s} offset={i / (ORRD.length - 1)} stopColor={s} />)}
            </linearGradient>
          </defs>
          <rect x={0} y={0} width={w} height={h} fill={`url(#${id})`} />
        </g>
      )} />
      <XAxis type="number" dataKey="v" domain={[lo, hi]} ticks={[lo, ...ticks, hi]} interval={0} height={28} tickSize={5} stroke="#111"
        tickFormatter={(t: number) => (t === lo || t === hi ? '' : String(lo > 2 ? t : t.toFixed(1)))} tick={{ fontSize: font, fill: '#111' }} />
      <YAxis hide domain={[0, 1]} />
    </LineChart>
  </Place>
);

const PathLegend = ({ names, colors, x, titleY, y0, step, r, font }: any) => (
  <>
    <Txt x={x - 7} y={titleY} size={14}>Pathways</Txt>
    {names.map((n: string, i: number) => (
      <React.Fragment key={n}>
        <Dot x={x} y={y0 + i * step} r={r} color={colors[i]} />
        <Txt x={x + 7.5} y={y0 + i * step} size={font}>{n}</Txt>
      </React.Fragment>
    ))}
  </>
);

const legendOrder = [...CELL_TYPES].reverse();
const legendColors = [...CELL_COLORS].reverse();

export default function App() {
  return (
    <div style={{ position: 'absolute', left: 0, top: 0, width: 1397, height: 1717, background: '#fff', overflow: 'hidden', fontFamily: SERIF }}>
      {/* A: per-sample stacks */}
      <Txt x={24} y={17} size={28}>A</Txt>
      <Place x={33} y={21}>
        <BarChart width={396} height={506} data={saTable} barCategoryGap={0} margin={{ top: 10, right: 0, bottom: 0, left: 0 }}>
          <XAxis dataKey="name" interval={0} tickFormatter={() => ''} tickSize={6} height={30} padding={{ left: 7.6, right: 0 }} stroke="#222" />
          <YAxis domain={[0, 100]} tick={false} width={30} stroke="#222" />
          {CELL_TYPES.map((c, i) => <Bar key={c} dataKey={c} stackId="a" fill={CELL_COLORS[i]} stroke={CELL_COLORS[i]} strokeWidth={0.3} isAnimationActive={false} />)}
        </BarChart>
      </Place>
      <Place x={429} y={21}>
        <BarChart width={412} height={506} data={naTable} barCategoryGap={1} margin={{ top: 10, right: 0, bottom: 0, left: 0 }}>
          <CartesianGrid vertical={false} stroke="#eeeeee" />
          <XAxis dataKey="name" interval={0} tickFormatter={() => ''} tickSize={6} height={30} padding={{ left: 10, right: 11 }} stroke="#222" />
          <YAxis orientation="right" domain={[0, 100]} ticks={PCT_TICKS} width={39} tickSize={5} stroke="#222" tick={{ fontSize: 12.5, fill: '#222' }} />
          {stackBars()}
        </BarChart>
      </Place>
      <Frame l={63} t={30} r={802} b={31} color="#777" w={1.5} sides="t" />
      <Frame l={428} t={31} r={430} b={497} color="#111" w={2} sides="l" />
      <Txt x={249} y={517} size={17} center>SA</Txt>
      <Txt x={616} y={517} size={17} center>NA+S</Txt>

      <StackPanel data={groupTable} marks={marksGroup} x={816} y={18} w={164} h={526} left={60} pad={{ left: 10, right: 10 }} />
      <Frame l={876} t={23} r={978} b={499} sides="tr" />
      <Txt x={841} y={260} size={13} center rotate={-90}>ylab(%)</Txt>
      <StackPanel data={respTable} marks={marksResp} x={964} y={15} w={214} h={529} left={60} pad={{ left: 10.6, right: 10.8 }} />
      <Frame l={1024} t={20} r={1176} b={499} sides="tr" />
      <Txt x={986} y={259} size={13} center rotate={-90}>ylab(%)</Txt>

      <Txt x={1187} y={29} size={13}>TME</Txt>
      {legendOrder.map((n, i) => (
        <React.Fragment key={n}>
          <Dot x={1193} y={43 + i * 15.35} r={6} color={legendColors[i]} />
          <Txt x={1202} y={46 + i * 15.35} size={12.7}>{n}</Txt>
        </React.Fragment>
      ))}

      {/* B: box plots */}
      <Txt x={49} y={541} size={28}>B</Txt>
      <Place x={60} y={541}>
        <ComposedChart width={1159} height={424} data={immuneTable} barSize={21} barGap={4} margin={{ top: 5, right: 2, bottom: 0, left: 0 }}>
          <CartesianGrid stroke="#e3e3e3" />
          <XAxis dataKey="cat" interval={0} tick={<AngledTick />} tickSize={5} height={140} padding={{ left: 11.6, right: 10.3 }} stroke="#111" />
          <YAxis domain={[-0.024, 0.922]} ticks={[0, .2, .4, .6, .8]} allowDataOverflow width={56} tickSize={3} stroke="#bbb"
            tickFormatter={(v: number) => v.toFixed(1)} tick={{ fontSize: 6, fill: '#222' }} />
          <Bar dataKey={(d: any) => [d.na[0], d.na[4]]} isAnimationActive={false} shape={(p: any) => <BoxMark {...p} which="na" color="#e64b35" fill="#f4a59a" />} />
          <Bar dataKey={(d: any) => [d.sa[0], d.sa[4]]} isAnimationActive={false} shape={(p: any) => <BoxMark {...p} which="sa" color="#4db8d5" fill="#a6dcea" />} />
          {immuneTable.map(d => <ReferenceDot key={d.cat} x={d.cat} y={0.9} r={0} shape={<SigMark label={d.sig} />} />)}
        </ComposedChart>
      </Place>
      <Frame l={116} t={545} r={1217} b={546.5} w={2.5} sides="t" />
      <Frame l={116} t={824} r={1217} b={826} w={2.5} sides="b" />
      <Txt x={87} y={685} size={12.5} center rotate={-90} family='"DejaVu Serif", serif'>Expression</Txt>
      <Txt x={1224} y={553} size={14}>Group</Txt>
      <Dot x={1232} y={576} r={8} color="#e64b35" />
      <Txt x={1244} y={580} size={15}>NA+S</Txt>
      <Dot x={1232} y={603} r={8} color="#4db8d5" />
      <Txt x={1244} y={606} size={15}>SA</Txt>

      {/* C */}
      <Txt x={95} y={957} size={28}>C</Txt>
      <HBars names={keggC} values={keggCValues} colors={keggCColors} x={0} y={944} w={516.5} h={327} left={221} domain={[0, 19.35]} ticks={[0, 5, 10, 15]} size={32} pad={{ top: 16, bottom: 16 }} font={12} />
      <Frame l={221} t={946} r={506.5} b={1245} sides="trbl" />
      <Txt x={366} y={1272} size={12} center>-log10(pvalue)</Txt>
      <Txt x={512} y={945} size={14}>Group</Txt>
      <Dot x={518} y={963} r={4.5} color="#4db8d5" />
      <Txt x={525} y={963} size={14}>Cellular Processes</Txt>
      <Dot x={518} y={984} r={4.5} color="#e64b35" />
      <Txt x={525} y={984} size={14}>Genetic Information</Txt>
      <Txt x={525} y={998} size={14}>Processing</Txt>

      {/* D */}
      <Chord cx={853} cy={1120} rx={172} ry={184} terms={termSpanD} colors={colorsD} pvals={pvalColorD} genes={geneSpanD} strands={strandsD} strandTerm={0.4} inner={19} />
      <Txt x={703} y={960} size={28}>D</Txt>
      <Txt x={1096} y={972} size={11} center>-log10(pvalue)</Txt>
      <ColorBar id="gradD" x={1034} y={979} w={124} h={19} lo={4.3} hi={11.8} ticks={[6, 8, 10]} font={12} />
      <PathLegend names={pathwaysD} colors={colorsD} x={1040} titleY={1029} y0={1044} step={14} r={5.5} font={12.9} />

      {/* E */}
      <Txt x={98} y={1302} size={28}>E</Txt>
      <HBars names={keggE} values={keggEValues} colors={keggEColors} x={0} y={1303} w={519} h={400} left={229} domain={[0, 4.67]} ticks={[0, 1, 2, 3, 4]} size={35} pad={{ top: 19, bottom: 18 }} font={13.5} />
      <Frame l={229} t={1305} r={509} b={1677} sides="trbl" />
      <Txt x={369} y={1705} size={12} center>-log10(pvalue)</Txt>
      <Txt x={515} y={1308} size={14}>Group</Txt>
      <Dot x={522} y={1327} r={5} color="#e64b35" />
      <Txt x={529} y={1327} size={14}>Cellular Processes</Txt>
      <Dot x={522} y={1343} r={5} color="#4db8d5" />
      <Txt x={529} y={1343} size={14}>Environmental Information</Txt>
      <Txt x={529} y={1358} size={14}>Processing</Txt>
      <Dot x={522} y={1375} r={5} color="#00a087" />
      <Txt x={529} y={1375} size={14}>Organismal Systems</Txt>

      {/* F */}
      <Chord cx={853} cy={1532.5} rx={170} ry={180.5} terms={termSpanF} colors={colorsF} pvals={pvalColorF} genes={geneSpanF} strands={strandsF} strandTerm={0.55} inner={18} />
      <Txt x={708} y={1333} size={28}>F</Txt>
      <Txt x={1103} y={1361} size={12} center>-log10(pvalue)</Txt>
      <ColorBar id="gradF" x={1035} y={1370} w={136.5} h={24} lo={1.27} hi={4.43} ticks={[1.5, 2, 2.5, 3, 3.5, 4]} font={13} />
      <PathLegend names={pathwaysF} colors={colorsF} x={1041} titleY={1438} y0={1455} step={17.7} r={6} font={11.6} />
    </div>
  );
}
